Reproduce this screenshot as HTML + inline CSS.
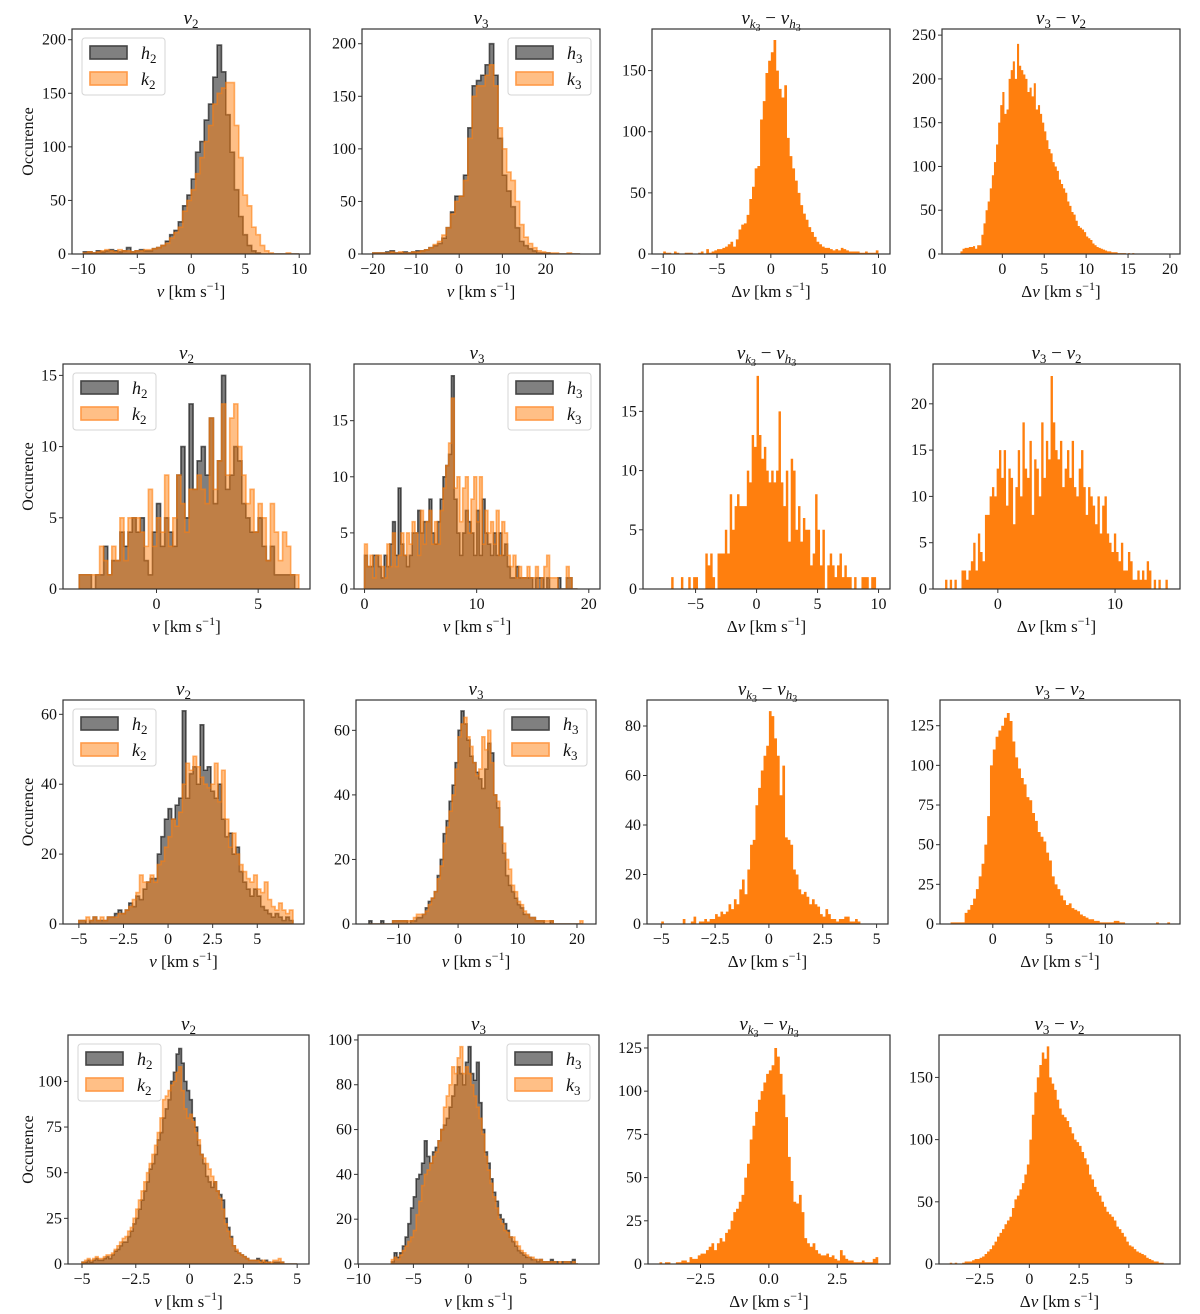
<!DOCTYPE html>
<html><head><meta charset="utf-8"><style>
html,body{margin:0;padding:0;background:#fff;}
svg{display:block;}
text{font-family:"Liberation Serif","DejaVu Serif",serif;fill:#111;}
</style></head><body>
<svg id="fig" width="1200" height="1314" viewBox="0 0 1200 1314" xmlns="http://www.w3.org/2000/svg"></svg>
<script>
// ---------- DATA (bin counts) ----------
// Row 1
const r1c1Start=-10, r1c1Width=0.4;
const r1c1H=[2,2,1,3,2,3,4,3,2,3,6,2,3,4,3,3,5,6,8,12,18,22,30,45,55,70,95,105,125,140,165,195,170,130,95,60,35,18,8,3,1,0,0,0,0,0,0,0,0,0];
const r1c1K=[1,2,1,2,3,4,3,2,4,3,3,2,3,3,4,4,5,6,8,10,15,20,25,40,50,60,75,90,105,120,140,150,155,160,160,120,90,55,45,25,18,8,3,1,0,0,0,1,0,0];
const r1c2Start=-20, r1c2Width=1;
const r1c2H=[1,1,1,2,3,1,1,2,1,2,3,3,4,6,8,10,15,25,40,55,55,75,120,160,165,170,180,200,170,110,75,60,45,25,12,8,5,3,1,1,1,0,0,0,0,0,0,0];
const r1c2K=[1,1,1,1,2,1,2,1,1,2,2,3,4,6,9,12,18,25,38,50,55,70,110,150,160,160,170,180,160,120,100,78,70,50,28,16,10,6,3,2,1,1,1,0,0,1,0,0];
const r1c3Start=-10, r1c3Width=0.25;
const r1c3D=[2,1,1,0,2,1,0,0,1,1,1,0,0,1,2,0,4,1,2,3,4,4,5,6,8,10,6,12,20,24,25,32,45,55,70,72,110,125,148,158,165,175,150,135,128,138,95,80,70,60,50,40,33,28,22,18,14,10,8,6,5,5,4,3,4,3,5,4,3,2,2,2,2,1,1,2,1,1,1,3];
const r1c4Start=-5, r1c4Width=0.25;
const r1c4D=[3,6,7,7,8,8,9,6,10,10,22,35,50,60,75,90,105,125,150,170,185,160,165,200,210,220,200,240,215,210,205,200,185,190,180,195,165,170,160,150,140,130,120,115,105,100,95,85,80,75,70,60,55,48,45,38,32,30,28,25,20,18,16,12,10,8,7,6,5,4,3,3,2,2,2,1,1,1,1,0,1,0,1,0,0,0,0,0,0,0];
// Row 2
const r2c1Start=-3.8, r2c1Width=0.2;
const r2c1H=[1,1,1,0,1,1,3,1,2,2,4,3,4,5,4,5,2,1,4,6,3,5,4,3,8,10,5,13,7,9,10,8,12,6,9,15,7,8,10,9,6,5,4,4,5,3,2,3,1,1,1,1,1,0];
const r2c1K=[1,1,1,1,1,3,2,1,3,2,5,2,5,5,5,4,3,7,3,5,4,8,3,5,8,6,4,7,7,8,7,6,12,7,9,13,8,12,13,10,8,6,7,4,6,5,2,6,4,2,4,3,1,1];
const r2c2Start=0, r2c2Width=0.25;
const r2c2H=[3,2,2,3,3,2,1,3,2,4,6,3,9,4,3,2,3,5,5,7,5,6,6,8,5,4,6,8,10,11,12,19,8,5,3,5,7,6,5,3,7,3,8,5,4,3,5,3,5,3,4,2,1,1,2,1,1,1,1,1,0,1,1,1,0,1,0,0,0,1,0,0,1,1,0,0];
const r2c2K=[4,2,3,1,3,3,2,1,4,2,5,2,3,5,3,5,4,6,5,3,7,4,6,7,4,6,4,7,9,11,13,17,9,10,6,9,10,5,8,10,6,10,4,7,5,6,4,7,3,6,5,3,2,3,1,2,1,1,2,1,1,2,0,1,2,3,1,1,1,0,0,0,2,1,0,0];
const r2c3Start=-7, r2c3Width=0.2;
const r2c3D=[1,0,0,0,1,0,0,1,0,1,1,0,0,0,3,2,3,1,0,3,3,3,5,3,8,5,7,8,7,7,7,10,9,13,12,18,13,11,12,10,9,10,9,10,15,9,7,10,4,11,10,5,7,4,6,5,5,2,3,8,5,2,5,0,2,3,2,1,2,3,1,2,1,1,0,1,0,0,1,1,1,0,1,1,0];
const r2c4Start=-4.5, r2c4Width=0.2;
const r2c4D=[1,0,1,0,1,0,0,2,2,1,2,3,5,2,6,4,3,8,8,10,11,10,13,15,12,15,9,13,12,7,11,15,10,18,13,12,16,8,14,13,10,18,12,16,14,23,18,15,14,16,11,13,15,12,16,11,10,13,15,11,8,11,10,9,7,10,6,9,10,6,5,4,6,4,3,5,2,2,4,3,1,1,2,1,2,1,3,2,0,1,0,1,0,0,1];
// Row 3
const r3c1Start=-5, r3c1Width=0.2;
const r3c1H=[1,1,0,1,2,1,1,1,2,2,3,4,3,4,6,5,8,7,10,12,13,13,20,25,30,33,30,34,36,61,36,43,45,40,57,44,45,38,36,40,30,25,26,20,22,15,12,10,8,10,8,5,4,3,2,3,2,1,2,1];
const r3c1K=[1,1,2,1,2,1,2,1,2,2,2,3,3,4,5,7,9,14,12,12,14,12,17,18,22,25,30,28,32,40,46,44,48,45,42,40,39,40,46,35,44,30,22,26,20,17,15,13,12,14,10,9,12,7,5,4,6,4,3,4];
const r3c2Start=-15, r3c2Width=0.5;
const r3c2H=[1,0,0,0,1,0,0,0,1,1,1,1,1,0,1,1,2,2,3,5,7,8,10,15,20,28,32,38,43,50,60,66,62,57,52,50,47,45,42,48,56,53,40,36,30,22,15,12,10,8,6,5,3,3,2,2,1,1,1,0,0,1,0,0,0,0,0,0,0,0,0,0];
const r3c2K=[0,0,0,0,0,0,0,0,1,1,1,1,1,1,1,2,3,3,3,4,6,8,10,14,18,25,30,35,40,48,58,62,64,58,55,50,46,48,58,54,60,50,40,38,30,25,20,17,12,10,7,6,4,3,2,2,1,1,1,1,1,1,0,0,0,0,0,0,0,0,0,1];
const r3c3Start=-5, r3c3Width=0.125;
const r3c3D=[1,0,0,0,0,0,0,0,2,0,0,1,3,0,1,1,2,1,2,2,4,3,5,4,5,8,6,10,8,14,18,12,22,32,34,48,55,62,68,72,86,84,75,68,52,64,35,34,32,22,20,14,12,13,11,8,10,8,7,4,3,6,4,2,2,1,2,2,3,3,1,1,2,1,0,0,0,0,0,0];
const r3c4Start=-4, r3c4Width=0.25;
const r3c4D=[0,1,1,1,1,1,7,9,12,16,22,30,38,50,68,100,110,118,122,125,130,133,128,115,105,98,92,88,80,78,70,65,58,55,52,45,40,30,25,22,18,15,12,13,10,9,8,6,5,4,3,3,2,2,1,1,1,1,1,2,2,1,1,0,0,0,0,0,0,0,0,0,0,0,1,0,0,0,1,0];
// Row 4
const r4c1Start=-5, r4c1Width=0.125;
const r4c1H=[1,1,2,1,2,3,2,2,3,4,3,5,7,8,10,12,12,15,18,22,25,30,35,40,45,52,55,60,68,72,80,85,90,100,105,115,118,110,100,95,90,80,75,65,60,55,48,45,42,45,40,38,35,25,20,15,10,7,6,5,4,3,2,2,2,3,2,1,2,1,0,1,1,1,1,0,0,0,0,0];
const r4c1K=[1,2,3,2,3,4,3,3,4,5,5,6,8,10,12,14,15,18,20,25,30,35,40,45,50,55,60,65,72,80,90,92,95,98,100,105,108,95,85,80,82,78,72,68,60,58,55,52,48,45,40,36,30,22,18,14,10,8,6,5,4,3,2,2,2,2,1,2,1,1,1,2,2,3,1,0,0,0,0,0];
const r4c2Start=-7, r4c2Width=0.25;
const r4c2H=[1,5,3,5,8,12,18,25,30,38,40,45,55,48,45,50,52,55,60,62,65,70,75,80,88,85,80,90,97,85,82,90,72,60,50,45,38,32,28,22,20,18,15,12,10,8,6,5,4,3,3,2,2,1,2,1,1,1,2,1,1,0,1,1,1,1,2,0];
const r4c2K=[2,3,2,4,6,8,10,12,15,22,28,35,40,42,45,48,50,55,60,70,75,80,88,85,92,97,85,88,85,80,75,70,65,58,48,42,36,30,25,20,18,15,14,12,12,10,8,6,5,4,3,3,2,2,2,1,1,1,1,1,0,1,0,1,1,0,1,0];
const r4c3Start=-4, r4c3Width=0.1;
const r4c3D=[1,0,1,1,0,0,1,1,2,2,1,4,3,3,5,6,6,8,10,12,8,12,15,13,18,20,25,30,32,36,40,50,58,72,80,88,95,100,105,110,112,115,125,120,110,98,85,62,48,36,35,40,30,15,12,10,12,8,6,5,5,6,4,5,3,2,8,5,3,2,2,1,1,1,2,1,1,1,3,4];
const r4c4Start=-4, r4c4Width=0.125;
const r4c4D=[1,0,1,0,0,1,2,2,2,3,4,4,5,6,8,10,12,15,18,22,25,28,32,35,38,45,52,55,60,65,72,80,100,120,138,150,160,170,165,175,150,145,140,132,125,120,118,115,110,105,100,98,95,90,85,80,72,68,62,58,55,50,46,42,40,38,35,30,28,25,22,18,15,14,12,10,9,8,7,5,4,3,2,2,1,1,0,0];

// Tick values and labels
const ticksX=[[-10,-5,0,5,10],[-20,-10,0,10,20],[-10,-5,0,5,10],[0,5,10,15,20],
  [0,5],[0,10,20],[-5,0,5,10],[0,10],
  [-5,-2.5,0,2.5,5],[-10,0,10,20],[-5,-2.5,0,2.5,5],[0,5,10],
  [-5,-2.5,0,2.5,5],[-10,-5,0,5],[-2.5,0,2.5],[-2.5,0,2.5,5]];
const labelsX=[["−10","−5","0","5","10"],["−20","−10","0","10","20"],["−10","−5","0","5","10"],["0","5","10","15","20"],
  ["0","5"],["0","10","20"],["−5","0","5","10"],["0","10"],
  ["−5","−2.5","0","2.5","5"],["−10","0","10","20"],["−5","−2.5","0","2.5","5"],["0","5","10"],
  ["−5","−2.5","0","2.5","5"],["−10","−5","0","5"],["−2.5","0.0","2.5"],["−2.5","0","2.5","5"]];
const ticksY=[[0,50,100,150,200],[0,50,100,150,200],[0,50,100,150],[0,50,100,150,200,250],
  [0,5,10,15],[0,5,10,15],[0,5,10,15],[0,5,10,15,20],
  [0,20,40,60],[0,20,40,60],[0,20,40,60,80],[0,25,50,75,100,125],
  [0,25,50,75,100],[0,20,40,60,80,100],[0,25,50,75,100,125],[0,50,100,150]];

// ---------- LAYOUT (pixel geometry, not data) ----------
const rowsTB=[[29,254],[364,589],[700,924],[1035,1264]];
const layout=[
 {L:72,R:310,x0:-11.05,x1:11.0,ymax:210},{L:362,R:600,x0:-22.5,x1:32.6,ymax:214},{L:652,R:890,x0:-11.04,x1:11.07,ymax:184},{L:942,R:1180,x0:-7.2,x1:21.2,ymax:257},
 {L:63,R:310,x0:-4.6,x1:7.55,ymax:15.8},{L:354,R:600,x0:-0.94,x1:21.0,ymax:20.05},{L:643,R:890,x0:-9.31,x1:10.94,ymax:19.0},{L:933,R:1180,x0:-5.53,x1:15.54,ymax:24.3},
 {L:63,R:304,x0:-5.89,x1:7.62,ymax:64.1},{L:356,R:596,x0:-17.17,x1:23.2,ymax:69.4},{L:647,R:888,x0:-5.66,x1:5.53,ymax:90.5},{L:940,R:1180,x0:-4.69,x1:16.63,ymax:141.2},
 {L:68,R:309,x0:-5.65,x1:5.55,ymax:125.4},{L:358,R:599,x0:-10.05,x1:11.92,ymax:102.2},{L:648,R:890,x0:-4.42,x1:4.43,ymax:132.5},{L:939,R:1180,x0:-4.54,x1:7.57,ymax:184.1}
];
const series=[
 [[r1c1Start,r1c1Width,r1c1H],[r1c1Start,r1c1Width,r1c1K]],[[r1c2Start,r1c2Width,r1c2H],[r1c2Start,r1c2Width,r1c2K]],[[r1c3Start,r1c3Width,r1c3D]],[[r1c4Start,r1c4Width,r1c4D]],
 [[r2c1Start,r2c1Width,r2c1H],[r2c1Start,r2c1Width,r2c1K]],[[r2c2Start,r2c2Width,r2c2H],[r2c2Start,r2c2Width,r2c2K]],[[r2c3Start,r2c3Width,r2c3D]],[[r2c4Start,r2c4Width,r2c4D]],
 [[r3c1Start,r3c1Width,r3c1H],[r3c1Start,r3c1Width,r3c1K]],[[r3c2Start,r3c2Width,r3c2H],[r3c2Start,r3c2Width,r3c2K]],[[r3c3Start,r3c3Width,r3c3D]],[[r3c4Start,r3c4Width,r3c4D]],
 [[r4c1Start,r4c1Width,r4c1H],[r4c1Start,r4c1Width,r4c1K]],[[r4c2Start,r4c2Width,r4c2H],[r4c2Start,r4c2Width,r4c2K]],[[r4c3Start,r4c3Width,r4c3D]],[[r4c4Start,r4c4Width,r4c4D]]
];

const NS="http://www.w3.org/2000/svg";
const fig=document.getElementById('fig');
function mk(tag,attrs,parent){const e=document.createElementNS(NS,tag);for(const k in attrs)e.setAttribute(k,attrs[k]);(parent||fig).appendChild(e);return e;}

function stepPath(start,w,counts,sx,sy){
  let d='M'+sx(start).toFixed(2)+','+sy(0).toFixed(2);
  for(let i=0;i<counts.length;i++){
    d+=' L'+sx(start+i*w).toFixed(2)+','+sy(counts[i]).toFixed(2)+' L'+sx(start+(i+1)*w).toFixed(2)+','+sy(counts[i]).toFixed(2);
  }
  d+=' L'+sx(start+counts.length*w).toFixed(2)+','+sy(0).toFixed(2)+' Z';
  return d;
}

function titleText(g,cx,y,col){
  const t=mk('text',{x:cx,y:y,'text-anchor':'middle','font-size':19},g);
  
  
  const add=(txt,attrs)=>{const s=mk('tspan',attrs||{},t);s.textContent=txt;return s;};
  if(col===0){add('v',{'font-style':'italic'});add('2',{'font-size':13,dy:4});}
  else if(col===1){add('v',{'font-style':'italic'});add('3',{'font-size':13,dy:4});}
  else if(col===2){add('v',{'font-style':'italic'});add('k',{'font-size':13,'font-style':'italic',dy:4});add('3',{'font-size':10,dy:3});add(' − ',{dy:-7});add('v',{'font-style':'italic'});add('h',{'font-size':13,'font-style':'italic',dy:4});add('3',{'font-size':10,dy:3});}
  else {add('v',{'font-style':'italic'});add('3',{'font-size':13,dy:4});add(' − ',{dy:-4});add('v',{'font-style':'italic'});add('2',{'font-size':13,dy:4});}
}

function xlabel(g,cx,y,col){
  const t=mk('text',{x:cx,y:y,'text-anchor':'middle','font-size':17},g);
  
  
  const add=(txt,attrs)=>{const s=mk('tspan',attrs||{},t);s.textContent=txt;return s;};
  if(col>=2)add('Δ');
  add('v',{'font-style':'italic'});add(' [km s');add('−1',{'font-size':12,dy:-7});add(']',{dy:7});
}

for(let p=0;p<16;p++){
  const row=Math.floor(p/4), col=p%4;
  const Ly=layout[p], T=rowsTB[row][0], B=rowsTB[row][1];
  const sx=v=>Ly.L+(v-Ly.x0)/(Ly.x1-Ly.x0)*(Ly.R-Ly.L);
  const sy=c=>B-c/Ly.ymax*(B-T);
  const g=mk('g',{});
  
  
  const cid='clip'+p;
  const cp=mk('clipPath',{id:cid},g);mk('rect',{x:Ly.L,y:T,width:Ly.R-Ly.L,height:B-T},cp);
  const sg=mk('g',{'clip-path':'url(#'+cid+')'},g);
  const ser=series[p];
  if(ser.length===2){
    const ph=mk('path',{d:stepPath(ser[0][0],ser[0][1],ser[0][2],sx,sy),fill:'#000','fill-opacity':0.5,stroke:'#000','stroke-opacity':0.6,'stroke-width':1.6,'stroke-linejoin':'miter'},sg);
    
    
    const pk=mk('path',{d:stepPath(ser[1][0],ser[1][1],ser[1][2],sx,sy),fill:'#ff7f0e','fill-opacity':0.5,stroke:'#ff7f0e','stroke-opacity':0.6,'stroke-width':1.6},sg);
    
    
  } else {
    const pd=mk('path',{d:stepPath(ser[0][0],ser[0][1],ser[0][2],sx,sy),fill:'#ff7f0e',stroke:'none'},sg);
    
    
  }
  const fr=mk('rect',{x:Ly.L,y:T,width:Ly.R-Ly.L,height:B-T,fill:'none',stroke:'#333','stroke-width':1.2},g);
  
  
  // x ticks
  ticksX[p].forEach((v,i)=>{
    const x=sx(v);
    const tk=mk('line',{x1:x,x2:x,y1:B,y2:B+4,stroke:'#333','stroke-width':1},g);
    
    
    const tl=mk('text',{x:x,y:B+20,'text-anchor':'middle','font-size':16},g);
    tl.textContent=labelsX[p][i];
    
    
  });
  ticksY[p].forEach(v=>{
    const y=sy(v);
    const tk=mk('line',{x1:Ly.L-4,x2:Ly.L,y1:y,y2:y,stroke:'#333','stroke-width':1},g);
    
    
    const tl=mk('text',{x:Ly.L-6,y:y+5,'text-anchor':'end','font-size':16},g);
    tl.textContent=String(v);
    
    
  });
  titleText(g,(Ly.L+Ly.R)/2,T-5,col);
  xlabel(g,(Ly.L+Ly.R)/2,B+43,col);
  if(col===0){
    const yl=mk('text',{x:0,y:0,'text-anchor':'middle','font-size':16,transform:'translate(33,'+((T+B)/2)+') rotate(-90)'},g);
    yl.textContent='Occurence';
    
    
  }
  if(ser.length===2){
    const lx=col===0?Ly.L+10:Ly.R-92, ly=T+9;
    const lg=mk('g',{},g);
    
    
    mk('rect',{x:lx,y:ly,width:83,height:57,rx:3,fill:'#fff','fill-opacity':0.85,stroke:'#d5d5d5','stroke-width':1},lg);
    const sub=col===0?'2':'3';
    [['h','#808080','#444'],['k','#ffbf86','#ff9a48']].forEach((e,i)=>{
      const en=mk('g',{},lg);
      
      
      mk('rect',{x:lx+8,y:ly+8+i*26,width:37,height:13,fill:e[1],stroke:e[2],'stroke-width':1.6},en);
      const t=mk('text',{x:lx+59,y:ly+21+i*26,'font-size':18},en);
      const a=mk('tspan',{'font-style':'italic'},t);a.textContent=e[0];
      const b=mk('tspan',{'font-size':13,dy:4},t);b.textContent=sub;
    });
  }
}
</script>
</body></html>
